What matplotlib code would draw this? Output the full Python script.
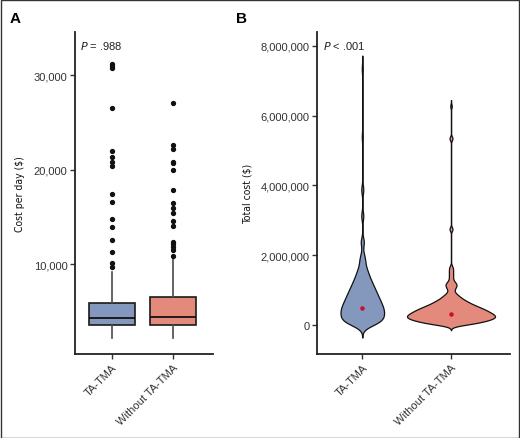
import numpy as np
import matplotlib
matplotlib.use('Agg')
import matplotlib.pyplot as plt
from matplotlib import font_manager
from matplotlib.patches import Rectangle

groups = ['TA-TMA', 'Without TA-TMA']
box_fill = ['#8497BD', '#E48A7C']

# panel A: cost per day ($), box statistics
day_q1 = [3570, 3570]
day_med = [4340, 4480]
day_q3 = [5960, 6530]
day_whislo = [2200, 2200]
day_whishi = [9170, 10750]
day_fliers_ta = [31190, 30980, 30700, 26550, 21970, 21300, 20850, 20420,
                 17400, 16620, 14760, 13950, 12610, 11340, 10150, 9760]
day_fliers_wo = [27010, 22610, 22190, 20850, 20670, 19930, 17860, 16520,
                 15990, 15430, 14620, 14090, 12330, 12120, 11800, 11520, 10850]

# panel B: total cost (in $1000), patients per cost level
ta_cost = [25, 75, 125, 175, 225, 275, 325, 375, 425, 475, 525, 575, 625, 675,
           725, 775, 825, 875, 925, 975, 1025, 1075, 1125, 1175, 1225, 1275,
           1325, 1375, 1425, 1475, 1525, 1575, 1625, 1675, 1725, 1775, 1825,
           1875, 1925, 1975, 2075, 2380, 3130, 3880, 5400, 7340]
ta_n = [8, 7, 6, 7, 7, 7, 7, 7, 7, 7, 7, 6, 6, 6, 6, 5, 5, 5, 5, 4, 4, 4, 4,
        3, 3, 3, 3, 2, 2, 2, 2, 2, 1, 1, 1, 1, 1, 1, 1, 1, 1, 3, 2, 2, 1, 1]
wo_cost = [25, 75, 125, 175, 225, 275, 325, 375, 425, 475, 525, 575, 625, 675,
           725, 775, 825, 875, 925, 975, 1025, 1075, 1125, 1175, 1225, 1275,
           1325, 1375, 1425, 1475, 1525, 1575, 1625, 1675, 2750, 5350, 6276]
wo_n = [12, 13, 18, 20, 22, 21, 20, 18, 17, 15, 13, 11, 9, 8, 6, 5, 4, 3, 2,
        1, 2, 2, 3, 3, 2, 1, 1, 1, 1, 1, 1, 1, 1, 1, 2, 2, 1]
bandwidth = [128, 58]
center_total = [487000, 306000]

plt.rcParams['font.family'] = ['Liberation Sans', 'DejaVu Sans']

# condensed face for the axis titles, if one is installed
narrow = font_manager.FontProperties(family='Liberation Sans', size=7.5)
for f in font_manager.fontManager.ttflist:
    if f.name == 'Liberation Sans Narrow' and f.weight in (400, 'normal') and f.style == 'normal':
        narrow = font_manager.FontProperties(fname=f.fname, size=8)
        break
else:
    for f in font_manager.fontManager.ttflist:
        if 'DejaVuSansCondensed.ttf' in f.fname:
            narrow = font_manager.FontProperties(fname=f.fname, size=7.5)
            break

fig = plt.figure(figsize=(5.2, 4.39), dpi=100)
axA = fig.add_axes([0.1442, 0.1913, 0.2654, 0.7335])
axB = fig.add_axes([0.6102, 0.1913, 0.3706, 0.7328])


def style(ax):
    for s in ['top', 'right']:
        ax.spines[s].set_visible(False)
    for s in ['left', 'bottom']:
        ax.spines[s].set_linewidth(1.3)
        ax.spines[s].set_color('#222222')
    ax.tick_params(length=3.5, width=1, color='#333333', labelcolor='#333333',
                   labelsize=8, pad=2)
    ax.set_xticks([1, 2])
    ax.set_xticklabels(groups, rotation=45, ha='right', rotation_mode='anchor')


# ---- A: boxplot
fliers = [day_fliers_ta, day_fliers_wo]
stats = []
for i in range(2):
    stats.append(dict(med=day_med[i], q1=day_q1[i], q3=day_q3[i],
                      whislo=day_whislo[i], whishi=day_whishi[i], fliers=fliers[i]))
bp = axA.bxp(stats, positions=[1, 2], widths=0.76, patch_artist=True, showcaps=False,
             boxprops=dict(edgecolor='#1a1a1a', linewidth=1.2),
             medianprops=dict(color='#111111', linewidth=1.3),
             whiskerprops=dict(color='#4a4a4a', linewidth=1.2),
             flierprops=dict(marker='o', markersize=2.8, markerfacecolor='#111111',
                             markeredgecolor='#111111'))
for patch, c in zip(bp['boxes'], box_fill):
    patch.set_facecolor(c)
style(axA)
axA.set_xlim(0.398, 2.66)
axA.set_ylim(538, 34540)
axA.set_yticks([10000, 20000, 30000])
axA.set_yticklabels(['{:,}'.format(v) for v in [10000, 20000, 30000]])
axA.set_ylabel('Cost per day ($)', fontproperties=narrow, color='#111111', labelpad=6)
axA.text(0.036, 0.96, '$P$ = .988', transform=axA.transAxes, fontsize=8,
         color='#222222', va='center', ha='left')

# ---- B: violin
costs = [ta_cost, wo_cost]
counts = [ta_n, wo_n]
curves = []
for i in range(2):
    v = np.repeat(np.array(costs[i], float), counts[i]) * 1000
    bw = bandwidth[i] * 1000
    grid = np.linspace(v.min() - 3 * bw, v.max() + 3 * bw, 1500)
    z = (grid[:, None] - v[None, :]) / bw
    dens = np.exp(-0.5 * z ** 2).sum(axis=1) / (len(v) * bw * np.sqrt(2 * np.pi))
    curves.append((grid, dens))
dmax = max(d.max() for _, d in curves)
for i, (grid, dens) in enumerate(curves):
    half = dens / dmax * 0.496
    axB.fill_betweenx(grid, i + 1 - half, i + 1 + half, facecolor=box_fill[i],
                      edgecolor='#111111', linewidth=0.9)
    axB.scatter([i + 1], [center_total[i]], s=5, color='#C8102E', zorder=3)
style(axB)
axB.set_xlim(0.493, 2.665)
axB.set_ylim(-832000, 8390000)
yt = [0, 2000000, 4000000, 6000000, 8000000]
axB.set_yticks(yt)
axB.set_yticklabels(['{:,}'.format(v) for v in yt])
axB.set_ylabel('Total cost ($)', fontproperties=narrow, color='#111111', labelpad=6)
axB.text(0.03, 0.96, '$P$ < .001', transform=axB.transAxes, fontsize=8,
         color='#222222', va='center', ha='left')

fig.text(10 / 520, 1 - 12 / 439, 'A', fontsize=11, fontweight='bold', va='top')
fig.text(236 / 520, 1 - 12 / 439, 'B', fontsize=11, fontweight='bold', va='top')
fig.add_artist(Rectangle((0.001, 0.001), 0.997, 0.997, transform=fig.transFigure,
                         fill=False, edgecolor='#333333', linewidth=1))

fig.savefig('out.png', dpi=100)
